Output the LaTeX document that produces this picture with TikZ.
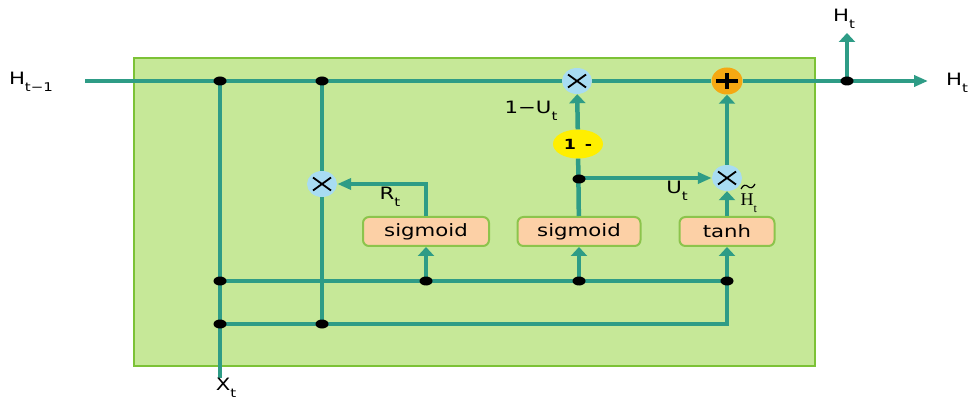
\documentclass[tikz,border=0pt]{standalone}
\usepackage{fontspec}
\setmainfont{DejaVu Sans}
\newfontfamily\seriffam{Liberation Serif}
\usepackage{graphicx}
\usetikzlibrary{arrows.meta,shapes.geometric}
\definecolor{teal1}{HTML}{2E9C86}
\definecolor{bggreen}{HTML}{C6E898}
\definecolor{bgborder}{HTML}{7CC236}
\definecolor{boxfill}{HTML}{FCD0A6}
\definecolor{boxborder}{HTML}{8CC44C}
\definecolor{multblue}{HTML}{A8DCF2}
\definecolor{plusorange}{HTML}{F5A812}
\definecolor{oneyellow}{HTML}{FFEF00}
\newcommand\wide[1]{\scalebox{1.25}[1]{#1}}
\newcommand\sbt[1]{\raisebox{-0.38em}{\fontsize{12}{12}\selectfont #1}}
\begin{document}
\begin{tikzpicture}[x=1pt,y=-1pt,
  wire/.style={teal1,line width=4.5pt},
  upar/.style={wire,-{Triangle[length=9pt,width=16pt]}},
  rar/.style={wire,-{Triangle[length=14pt,width=11pt]}},
  jdot/.style={ellipse,fill=black,inner sep=0pt,minimum width=13pt,minimum height=9pt},
  fbox/.style={rectangle,rounded corners=6pt,fill=boxfill,draw=boxborder,line width=2pt,
    minimum height=29pt,inner sep=0pt,font=\fontsize{17}{20}\selectfont},
  mult/.style={ellipse,fill=multblue,inner sep=0pt,minimum width=30pt,minimum height=26pt,
    path picture={\draw[black,line width=1.8pt]
      ([shift={(-9,-6.5)}]path picture bounding box.center) -- ([shift={(9,6.5)}]path picture bounding box.center)
      ([shift={(-9,6.5)}]path picture bounding box.center) -- ([shift={(9,-6.5)}]path picture bounding box.center);}},
  plusn/.style={ellipse,fill=plusorange,inner sep=0pt,minimum width=31pt,minimum height=27pt,
    path picture={\draw[black,line width=3.5pt]
      ([shift={(-11,0)}]path picture bounding box.center) -- ([shift={(11,0)}]path picture bounding box.center)
      ([shift={(0,-8)}]path picture bounding box.center) -- ([shift={(0,8)}]path picture bounding box.center);}},
  lbl/.style={inner sep=0pt,font=\fontsize{17}{20}\selectfont}
]
\useasboundingbox (0,0) rectangle (980,406);
\fill[white] (0,0) rectangle (980,406);
% background box
\node[draw=bgborder,fill=bggreen,line width=2.5pt,minimum width=681pt,minimum height=308pt,inner sep=0pt] (cell) at (474.5,212) {};

% main nodes
\node[mult] (m1) at (577,81) {};
\node[plusn] (pl) at (727,81) {};
\node[mult] (mr) at (322,184) {};
\node[mult] (m2) at (727,178) {};
\node[ellipse,fill=oneyellow,inner sep=0pt,minimum width=50pt,minimum height=29pt,font=\fontsize{14}{16}\selectfont\bfseries] (one) at (578,144) {\wide{1\,\,\,-}};
\node[fbox,minimum width=126pt] (s1) at (426,231.5) {\wide{sigmoid}};
\node[fbox,minimum width=123pt] (s2) at (579,231.5) {\wide{sigmoid}};
\node[fbox,minimum width=95pt] (th) at (727,231.5) {\wide{tanh}};

% free ends
\coordinate (hin) at (85,81);
\coordinate (hout) at (928,81);
\coordinate (hup) at (847,33);
\coordinate (xin) at (220,378);

% wires
\draw[wire] (hin) -- (m1);
\draw[wire] (m1) -- (pl);
\draw[rar] (pl) -- (hout);
\draw[upar] (847,81) -- (hup);
\draw[wire] (220,81) -- (xin);
\draw[wire] (322,81) -- (mr);
\draw[wire] (mr) -- (322,324);
\draw[rar] (s1.north) |- (mr);
\draw[wire] (220,281) -- (727,281);
\draw[upar] (426,281) -- (s1);
\draw[upar] (579,281) -- (s2);
\draw[upar] (220,324) -| (th);
\draw[wire] (s2) -- (one);
\draw[upar] (one) -- (m1);
\draw[rar] (579,178) -- (m2);
\draw[upar] (th) -- (m2);
\draw[upar] (m2) -- (pl);

% junction dots
\node[jdot] (d1) at (220,81) {};
\node[jdot] (d2) at (322,81) {};
\node[jdot] (d3) at (847,81) {};
\node[jdot] (d4) at (579,179) {};
\node[jdot] (d5) at (220,281) {};
\node[jdot] (d6) at (426,281) {};
\node[jdot] (d7) at (579,281) {};
\node[jdot] (d8) at (727,281) {};
\node[jdot] (d9) at (220,324) {};
\node[jdot] (d10) at (322,324) {};

% labels
\node[lbl] (lhin) at (31,82) {\wide{H\sbt{t−1}}};
\node[lbl] (lhout) at (957,83) {\wide{H\sbt{t}}};
\node[lbl] (lhup) at (844,19) {\wide{H\sbt{t}}};
\node[lbl] (lxt) at (226,388) {\wide{X\sbt{t}}};
\node[lbl] (lrt) at (390,197) {\wide{R\sbt{t}}};
\node[lbl] (lut) at (677,191) {\wide{U\sbt{t}}};
\node[lbl] (l1u) at (531,111) {\wide{1−U\sbt{t}}};
\node[inner sep=0pt,anchor=base west,font=\seriffam\fontsize{18}{20}\selectfont] (lht) at (740.5,206) {H\sbt{t}};
\draw[black,line width=1.2pt] (741,189) .. controls (743,184.5) and (746,184.5) .. (748,186.5) .. controls (750,188.5) and (753,188.5) .. (755,184);
\end{tikzpicture}
\end{document}
